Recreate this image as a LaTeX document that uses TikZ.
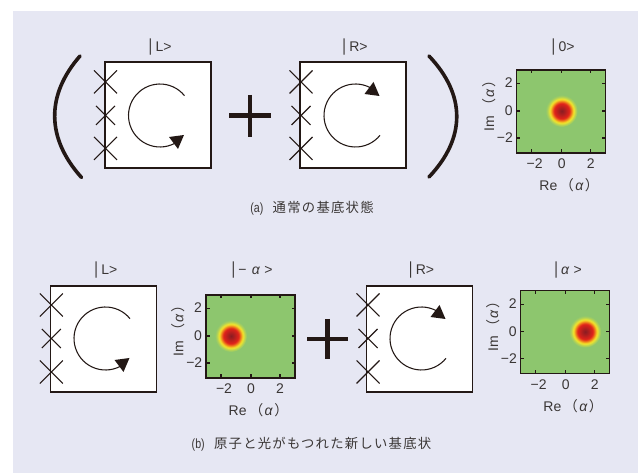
\documentclass[tikz,border=0pt]{standalone}
\usepackage{fontspec}
\setmainfont{Liberation Sans}
\newfontfamily\cjk[LetterSpace=9.5]{Noto Sans CJK JP}
\newfontfamily\cjkp{Noto Sans CJK JP}
\definecolor{panelbg}{HTML}{E6E7F3}
\definecolor{inkc}{HTML}{231815}
\definecolor{textc}{HTML}{3A3635}
\definecolor{fieldg}{HTML}{8DC66E}
\definecolor{spotcore}{HTML}{8A1C22}
\definecolor{spotred}{HTML}{E2231A}
\definecolor{spotorange}{HTML}{F08A1D}
\definecolor{spotyellow}{HTML}{F5E72A}
\pgfdeclareradialshading{spot}{\pgfpoint{0bp}{0bp}}{%
 color(0bp)=(spotcore);
 color(4bp)=(spotcore!70!spotred);
 color(12bp)=(spotred);
 color(15.5bp)=(spotorange);
 color(18.5bp)=(spotyellow);
 color(22bp)=(spotyellow!35!fieldg);
 color(25bp)=(fieldg);
 color(50bp)=(fieldg)}
\tikzset{
 atombox/.style={draw=inkc,fill=white,line width=1.1pt,minimum size=79.5pt,inner sep=0pt,outer sep=0pt},
 ketlabel/.style={text=textc,font=\fontsize{10.5pt}{12pt}\selectfont,inner sep=0pt},
 ticklabel/.style={text=textc,font=\fontsize{10.5pt}{12pt}\selectfont,inner sep=0pt},
 captext/.style={text=textc,font=\fontsize{10pt}{12pt}\selectfont,inner sep=0pt},
 bigplus/.style={draw=inkc,line width=3.6pt},
 paren/.style={draw=inkc,line width=2.7pt,line cap=round},
 thinline/.style={draw=inkc,line width=.8pt},
 ticks/.style={draw=inkc,line width=.8pt}
}
\newcommand{\kbar}{\scalebox{1}[1.25]{|}\hspace{2.5pt}}
\newcommand{\crossmark}[3]{\draw[thinline] (#1-#3,#2-#3) -- (#1+#3,#2+#3) (#1-#3,#2+#3) -- (#1+#3,#2-#3);}
\newcommand{\spinarrow}[3]{\begin{scope}[shift={(#1,#2)},yscale=#3]
 \draw[thinline] plot[smooth,domain=39:298,samples=40] ({31.5*cos(\x)},{-31.5*sin(\x)});
 \fill[inkc] (9,21.5) -- (24,19.5) -- (18,33.5) -- cycle;
\end{scope}}
\newcommand{\wigner}[4]{\begin{scope}[shift={(#1,#2)}]
 \fill[fieldg] (0,0) rectangle (89,83);
 \begin{scope}
  \clip (0,0) rectangle (89,83);
  \shade[shading=spot] (#3,41) circle[x radius=16,y radius=16];
 \end{scope}
 \foreach \t in {15,45,74} {\draw[ticks] (\t,0) -- (\t,3.5) (\t,83) -- (\t,79.5);}
 \foreach \t in {13.5,41,68} {\draw[ticks] (0,\t) -- (3.5,\t) (89,\t) -- (85.5,\t);}
 \draw[draw=inkc,line width=1.1pt] (0,0) rectangle (89,83);
 \node[ticklabel] (#4xa) at (18,93.5) {−2};
 \node[ticklabel] (#4xb) at (45,93.5) {0};
 \node[ticklabel] (#4xc) at (74,93.5) {2};
 \node[ticklabel] (#4ya) at (-8,13) {2};
 \node[ticklabel] (#4yb) at (-8,41) {0};
 \node[ticklabel,anchor=east] (#4yc) at (-3.5,68) {−2};
 \node[ticklabel] (#4re) at (52.5,115.5) {Re\hspace{2pt}{\cjkp（}\hspace{1pt}\textit{α}\hspace{1pt}{\cjkp）}};
 \node[ticklabel,rotate=90] (#4im) at (-28,32.5) {Im\hspace{2pt}{\cjkp（}\hspace{1pt}\textit{α}\hspace{1pt}{\cjkp）}};
\end{scope}}
\begin{document}
\begin{tikzpicture}[x=0.75pt,y=-0.75pt]
\useasboundingbox (0,0) rectangle (643,473);
\fill[panelbg] (13,11) rectangle (637.5,473);
% top row
\node[atombox] (boxLa) at (158,115) {};
\node[atombox] (boxRa) at (353,115) {};
\crossmark{105.5}{82}{11.5}\crossmark{105.5}{115.5}{9.5}\crossmark{105.5}{148.5}{11.5}
\crossmark{301}{82}{11.5}\crossmark{301}{115.5}{9.5}\crossmark{301}{148.5}{11.5}
\spinarrow{160}{115.5}{1}
\spinarrow{355.5}{115.5}{-1}
\draw[paren] (80,56) .. controls (46,95) and (46,138) .. (81.5,177.5);
\draw[paren] (429,56) .. controls (466,95) and (466,138) .. (429,177);
\draw[bigplus] (229,115.7) -- (270.7,115.7) (250,95) -- (250,136.7);
\node[ketlabel] (ketLa) at (160,47) {\kbar L>};
\node[ketlabel] (ketRa) at (355,47) {\kbar R>};
\node[ketlabel] (ketZ) at (563,47) {\kbar 0>};
\wigner{516.7}{70}{45}{pa}
\node[captext] (capa) at (312,208) {\scalebox{.8}[1]{(a)}\hspace{7pt}{\cjk 通常の基底状態}};
% bottom row
\node[atombox] (boxLb) at (103.5,339) {};
\node[atombox] (boxRb) at (419.5,339) {};
\crossmark{51.3}{305}{11.5}\crossmark{51.3}{338.5}{9.5}\crossmark{51.3}{372}{11.5}
\crossmark{368}{305}{11.5}\crossmark{368}{338.5}{9.5}\crossmark{368}{372}{11.5}
\spinarrow{105.5}{338.5}{1}
\spinarrow{421.5}{338.5}{-1}
\draw[bigplus] (307.3,339) -- (348,339) (327.7,319) -- (327.7,359);
\node[ketlabel] (ketLb) at (105.8,270) {\kbar L>};
\node[ketlabel] (ketMa) at (252,270) {\kbar −\hspace{4pt}\textit{α}\hspace{3pt}>};
\node[ketlabel] (ketRb) at (421.5,270) {\kbar R>};
\node[ketlabel] (ketPa) at (568,270) {\kbar\textit{α}\hspace{3pt}>};
\wigner{206}{295}{25}{pb}
\wigner{520.7}{290.7}{64.5}{pc}
\node[captext] (capb) at (311.5,444) {\scalebox{.8}[1]{(b)}\hspace{7pt}{\cjk 原子と光がもつれた新しい基底状}};
\end{tikzpicture}
\end{document}
